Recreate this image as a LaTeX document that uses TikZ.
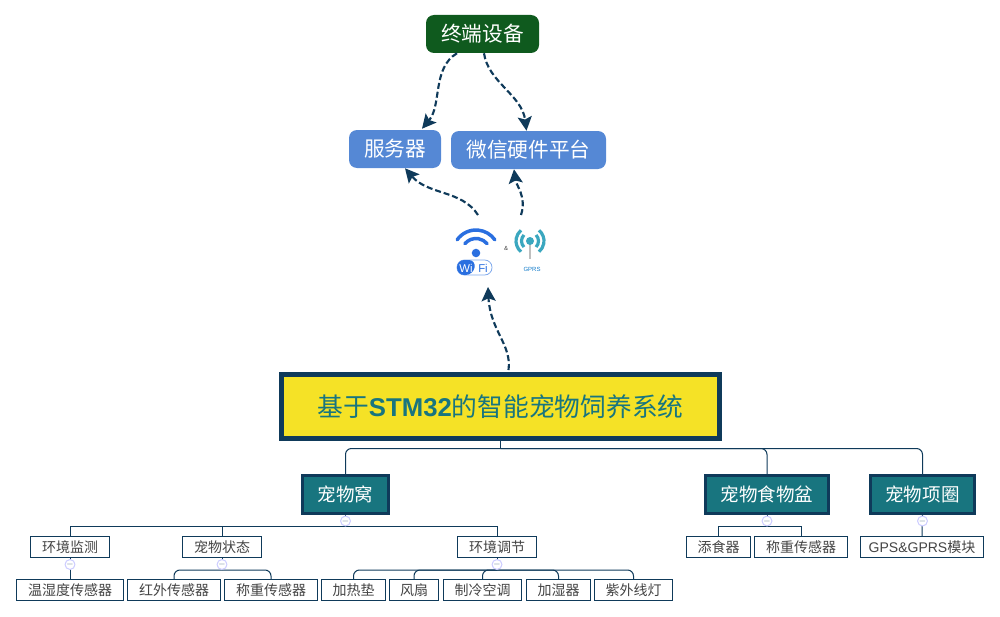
\documentclass[tikz,border=0pt]{standalone}
\usepackage{fontspec}
\setmainfont{Noto Sans CJK SC}
\newfontfamily\latinfont{Liberation Sans}
\usepackage{xcolor}
\usepackage{tikz}
\usetikzlibrary{arrows.meta,calc}
\definecolor{navy}{HTML}{0F3A5A}
\definecolor{teal}{HTML}{18757F}
\definecolor{forest}{HTML}{0F5A1E}
\definecolor{sky}{HTML}{5588D5}
\definecolor{lemon}{HTML}{F5E226}
\definecolor{leaftext}{HTML}{444444}
\definecolor{wifiblue}{HTML}{2A6FE0}
\definecolor{gprsteal}{HTML}{3BA7BF}
\tikzset{
  roundbox/.style={rounded corners=6pt, text=white, font=\fontsize{15.5}{15.5}\selectfont,
                   minimum height=28.5pt, inner sep=0pt},
  rootbox/.style={draw=navy, fill=lemon, line width=3.75pt, text=teal, inner sep=0pt,
                  minimum width=328.5pt, minimum height=48pt, font=\fontsize{19.3}{19.3}\selectfont},
  catbox/.style={draw=navy, fill=teal, line width=2.25pt, text=white, inner sep=0pt,
                 minimum height=28.5pt, font=\fontsize{13.9}{13.9}\selectfont},
  leaf/.style={draw=navy, fill=white, line width=.75pt, text=leaftext, inner sep=0pt,
               minimum height=15.75pt, font=\fontsize{10.5}{10.5}\selectfont},
  collapse/.style={circle, draw=blue!20, fill=white, line width=.75pt, inner sep=0pt,
                   minimum size=7pt, text=navy!70, font=\fontsize{6}{6}\selectfont},
  flow/.style={-{Stealth[length=10.5pt,width=10.5pt,inset=2pt]}, navy, line width=1.6pt,
               dash pattern=on 4.5pt off 2.2pt},
  link/.style={navy, line width=.75pt},
  elbow/.style={link, rounded corners=4.5pt},
}
\begin{document}
\begin{tikzpicture}[x=.75pt, y=-.75pt]
  \useasboundingbox (0,0) rectangle (1000,617);
  % upper part
  \node[roundbox, fill=forest, minimum width=84.75pt] (terminal) at (482.5,34) {终端设备};
  \node[roundbox, fill=sky, minimum width=69pt] (server) at (395,149) {服务器};
  \node[roundbox, fill=sky, minimum width=116.25pt] (wechat) at (528.5,150) {微信硬件平台};
  \node[rootbox] (root) at (500.5,406.5) {基于{\latinfont\bfseries STM32}的智能宠物饲养系统};
  % wifi icon
  \coordinate (wifitop) at (478,215); \coordinate (wifibottom) at (488,287);
  \coordinate (gprstop) at (521,215);
  \draw[wifiblue, line width=2.6pt, line cap=round] (476,253) ++(-145:23) arc[start angle=-145, end angle=-35, radius=23];
  \draw[wifiblue, line width=2.6pt, line cap=round] (476,253) ++(-140:14.5) arc[start angle=-140, end angle=-40, radius=14.5];
  \fill[wifiblue] (476,253) circle[radius=3.2pt];
  \draw[wifiblue!60, fill=white, line width=.6pt, rounded corners=5.5pt] (457,260) rectangle (492,275);
  \fill[wifiblue, rounded corners=5.5pt] (457,260) -- (476,260) -- (473,275) -- (457,275) -- cycle;
  \node[text=white, font=\latinfont\fontsize{8.5}{8.5}\selectfont, inner sep=0pt] (wilabel) at (466,268) {Wi};
  \node[text=wifiblue, font=\latinfont\fontsize{8.5}{8.5}\selectfont, inner sep=0pt] (filabel) at (483,268) {Fi};
  \node[text=leaftext, font=\latinfont\fontsize{4.5}{4.5}\selectfont, inner sep=0pt] (andlabel) at (506,248) {\&};
  % gprs icon
  \draw[black!25, line width=2pt] (530,243) -- (530,259);
  \draw[gprsteal, line width=2.4pt] (530,241) ++(-45:8.5) arc[start angle=-45, end angle=45, radius=8.5];
  \draw[gprsteal, line width=2.4pt] (530,241) ++(135:8.5) arc[start angle=135, end angle=225, radius=8.5];
  \draw[gprsteal, line width=2.4pt] (530,241) ++(-50:14) arc[start angle=-50, end angle=50, radius=14];
  \draw[gprsteal, line width=2.4pt] (530,241) ++(130:14) arc[start angle=130, end angle=230, radius=14];
  \fill[gprsteal] (530,241) circle[radius=3pt];
  \node[text=cyan!60!blue, font=\latinfont\fontsize{4.5}{4.5}\selectfont, inner sep=0pt] (gprslabel) at (532,269) {GPRS};
  % dashed arrows
  \draw[flow] ($(terminal.south)+(-25.5,0)$) .. controls (432,68) and (442,105) .. ($(server.north)+(27,-1)$);
  \draw[flow] ($(terminal.south)+(1.5,0)$) .. controls (488,82) and (522,95) .. ($(wechat.north)+(-2,0)$);
  \draw[flow] (wifitop) .. controls (462,190) and (428,195) .. ($(server.south)+(10,0)$);
  \draw[flow] (gprstop) .. controls (527,197) and (516,185) .. ($(wechat.south)+(-14.5,0)$);
  \draw[flow] ($(root.north)+(8,-2)$) .. controls (512,345) and (490,330) .. (wifibottom);
  % level one
  \node[catbox, minimum width=64.5pt] (kennel) at (345.5,494.5) {宠物窝};
  \node[catbox, minimum width=92.25pt] (bowl) at (767,494.5) {宠物食物盆};
  \node[catbox, minimum width=78pt] (collar) at (922.5,494.5) {宠物项圈};
  % level two
  \node[leaf, minimum width=59.25pt] (monitor) at (70,547) {环境监测};
  \node[leaf, minimum width=59.25pt] (state) at (222,547) {宠物状态};
  \node[leaf, minimum width=59.25pt] (adjust) at (497,547) {环境调节};
  \node[leaf, minimum width=48pt] (feeder) at (718.5,547) {添食器};
  \node[leaf, minimum width=69.75pt] (bowlscale) at (801,547) {称重传感器};
  \node[leaf, minimum width=92.25pt, font=\latinfont\fontsize{10.5}{10.5}\selectfont] (gps) at (922,547) {GPS\&GPRS{\rmfamily 模块}};
  % level three
  \node[leaf, minimum width=80.25pt] (humidity) at (70,590) {温湿度传感器};
  \node[leaf, minimum width=69.75pt] (infrared) at (174,590) {红外传感器};
  \node[leaf, minimum width=69.75pt] (petscale) at (271,590) {称重传感器};
  \node[leaf, minimum width=48pt] (pad) at (353.5,590) {加热垫};
  \node[leaf, minimum width=36.75pt] (fan) at (414,590) {风扇};
  \node[leaf, minimum width=58.5pt] (cooler) at (482.5,590) {制冷空调};
  \node[leaf, minimum width=48pt] (humidifier) at (558.5,590) {加湿器};
  \node[leaf, minimum width=58.5pt] (uvlamp) at (633.5,590) {紫外线灯};
  % connectors
  \coordinate (trunk) at (500.5,448.5);
  \coordinate (kennelbus) at (345.5,526.5);
  \coordinate (bowlbus) at (767,526.5);
  \coordinate (statebus) at (222,570);
  \coordinate (adjustbus) at (497,570);
  \draw[link] (root.south) -- (trunk);
  \draw[elbow] (trunk) -| (kennel.north); \draw[elbow] (trunk) -| (bowl.north); \draw[elbow] (trunk) -| (collar.north);
  \draw[link] (kennel.south) -- (kennelbus); \draw[link] (bowl.south) -- (bowlbus);
  \draw[link] (kennelbus) -| (monitor.north); \draw[link] (kennelbus) -| (state.north); \draw[link] (kennelbus) -| (adjust.north);
  \draw[link] (bowlbus) -| (feeder.north); \draw[link] (bowlbus) -| (bowlscale.north);
  \draw[link] (collar.south) -- (gps.north);
  \draw[link] (monitor.south) -- (humidity.north);
  \draw[link] (state.south) -- (statebus); \draw[link] (adjust.south) -- (adjustbus);
  \draw[elbow] (statebus) -| (infrared.north); \draw[elbow] (statebus) -| (petscale.north);
  \draw[elbow] (adjustbus) -| (pad.north); \draw[elbow] (adjustbus) -| (fan.north); \draw[elbow] (adjustbus) -| (cooler.north);
  \draw[elbow] (adjustbus) -| (humidifier.north); \draw[elbow] (adjustbus) -| (uvlamp.north);
  % collapse marks
  \node[collapse] (kennelmark) at (345.5,521) {$-$};
  \node[collapse] (bowlmark) at (767,521) {$-$};
  \node[collapse] (collarmark) at (922.5,521) {$-$};
  \node[collapse] (monitormark) at (70,564.5) {$-$};
  \node[collapse] (statemark) at (222,564.5) {$-$};
  \node[collapse] (adjustmark) at (497,564.5) {$-$};
\end{tikzpicture}
\end{document}
